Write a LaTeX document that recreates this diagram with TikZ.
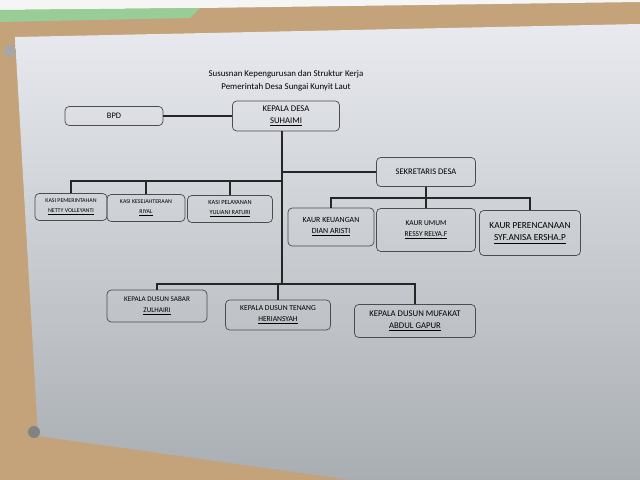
\documentclass[tikz,border=0pt]{standalone}
\usepackage{fontspec}
\setmainfont{Carlito}
\usetikzlibrary{positioning}
\definecolor{kayu}{HTML}{C4A27A}
\definecolor{kertasatas}{HTML}{E8EAEF}
\definecolor{kertasbawah}{HTML}{A9AEB3}
\tikzstyle{jabatan} = [rectangle, rounded corners=3pt, draw=black!70, line width=0.5pt, align=center, inner sep=1pt]
\tikzstyle{garis} = [line width=1.2pt, black!85]
\tikzstyle{every node}=[font=\fontsize{5}{6}\selectfont]

\begin{document}
\begin{tikzpicture}[x=0.025cm, y=-0.025cm]
    		\useasboundingbox (0,0) rectangle (640,480);
    		%latar: papan dan kertas
    		\fill[kayu] (0,0) rectangle (640,480);
    		\fill[gray!8] (0,0) -- (640,0) -- (640,2) -- (200,8) -- (0,10) -- cycle;
    		\fill[green!35!gray!60] (0,10) -- (200,8) -- (190,18) -- (0,22) -- cycle;
    		\shade[top color=kertasatas, bottom color=kertasbawah] (15,37) -- (640,24) -- (640,480) -- (350,480) -- (38,436) -- cycle;
    		\fill[gray!70] (10,51) circle (6);
    		\fill[gray!60!black!70] (34,432) circle (6);
    		
    		%judul
    		\node (judul) at (286,81) [align=center, font=\fontsize{6.3}{9}\selectfont] {Sususnan Kepengurusan dan Struktur Kerja\\Pemerintah Desa Sungai Kunyit Laut};
    		
    		%kotak jabatan
    		\node (bpd) at (114,116) [jabatan, minimum width=98*0.025cm, minimum height=19*0.025cm, font=\fontsize{6}{7}\selectfont] {BPD};
    		\node (kades) at (286,116) [jabatan, minimum width=107*0.025cm, minimum height=30*0.025cm, font=\fontsize{6.2}{9}\selectfont] {KEPALA DESA\\\underline{SUHAIMI}};
    		\node (sekdes) at (426,172) [jabatan, minimum width=99*0.025cm, minimum height=29*0.025cm, font=\fontsize{6.1}{8}\selectfont] {SEKRETARIS DESA};
    		
    		\node (kasi1) at (71,207) [jabatan, minimum width=72*0.025cm, minimum height=27*0.025cm, font=\fontsize{4.2}{7}\selectfont] {KASI PEMERINTAHAN\\\underline{NETTY VOLLEYANTI}};
    		\node (kasi2) at (146,208) [jabatan, minimum width=78*0.025cm, minimum height=27*0.025cm, font=\fontsize{4.2}{7}\selectfont] {KASI KESEJAHTERAAN\\\underline{RIYAL}};
    		\node (kasi3) at (230,209) [jabatan, minimum width=85*0.025cm, minimum height=27*0.025cm, font=\fontsize{4.5}{7}\selectfont] {KASI PELAYANAN\\\underline{YULIANI RATURI}};
    		
    		\node (kaur1) at (331,227) [jabatan, minimum width=86*0.025cm, minimum height=38*0.025cm, font=\fontsize{5.6}{8}\selectfont] {KAUR KEUANGAN\\\underline{DIAN ARISTI}};
    		\node (kaur2) at (426,230) [jabatan, minimum width=99*0.025cm, minimum height=43*0.025cm, font=\fontsize{5.3}{8}\selectfont] {KAUR UMUM\\\underline{RESSY RELYA.F}};
    		\node (kaur3) at (530,233) [jabatan, minimum width=101*0.025cm, minimum height=45*0.025cm, font=\fontsize{6.6}{9}\selectfont] {KAUR PERENCANAAN\\\underline{SYF.ANISA ERSHA.P}};
    		
    		\node (kadus1) at (157,306) [jabatan, minimum width=100*0.025cm, minimum height=32*0.025cm, font=\fontsize{5.1}{8}\selectfont] {KEPALA DUSUN SABAR\\\underline{ZULHAIRI}};
    		\node (kadus2) at (278,315) [jabatan, minimum width=105*0.025cm, minimum height=30*0.025cm, font=\fontsize{5.4}{8}\selectfont] {KEPALA DUSUN TENANG\\\underline{HERIANSYAH}};
    		\node (kadus3) at (415,321) [jabatan, minimum width=121*0.025cm, minimum height=33*0.025cm, font=\fontsize{6.2}{8.5}\selectfont] {KEPALA DUSUN MUFAKAT\\\underline{ABDUL GAPUR}};
    		
    		%titik cabang
    		\coordinate (batang) at (282,284);
    		\coordinate (cabangkasi) at (282,181);
    		\coordinate (cabangsek) at (282,172);
    		\coordinate (cabangkaur) at (426,198);
    		
    		%garis penghubung
    		\draw [garis](bpd) -- (kades);
    		\draw [garis](kades.south -| batang) -- (batang);
    		\draw [garis](cabangsek) -- (sekdes);
    		\draw [garis](cabangkasi) -| (kasi1.north);
    		\draw [garis](cabangkasi) -| (kasi2.north);
    		\draw [garis](cabangkasi) -| (kasi3.north);
    		\draw [garis](sekdes) -- (cabangkaur);
    		\draw [garis](cabangkaur) -| (kaur1.north);
    		\draw [garis](cabangkaur) -- (kaur2.north);
    		\draw [garis](cabangkaur) -| (kaur3.north);
    		\draw [garis](batang) -| (kadus1.north);
    		\draw [garis](batang) -| (kadus2.north);
    		\draw [garis](batang) -| (kadus3.north);
    	\end{tikzpicture}
\end{document}
